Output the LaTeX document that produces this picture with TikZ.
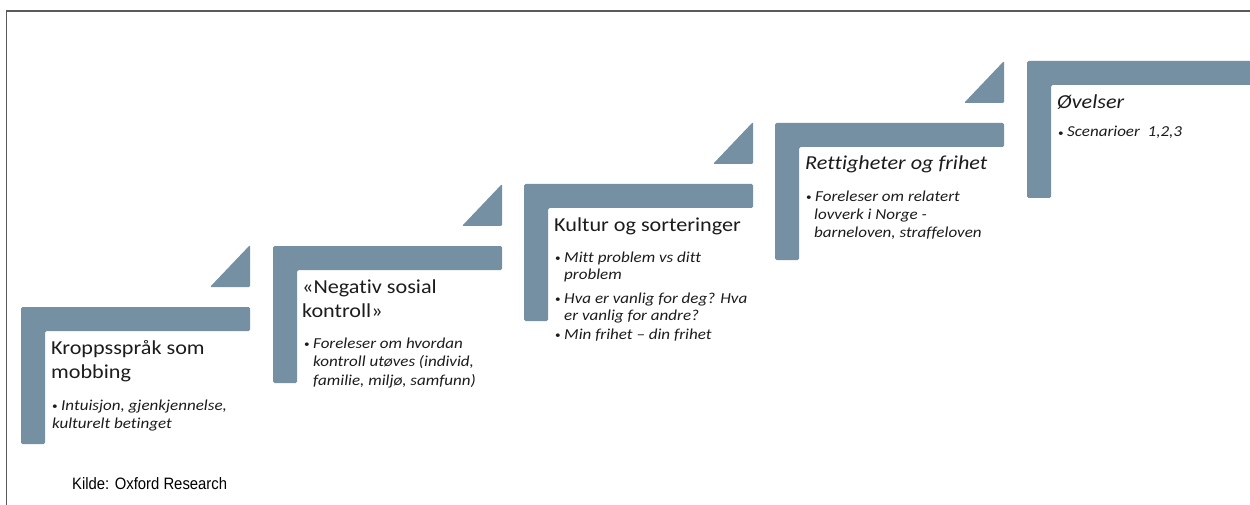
\documentclass[tikz,border=0pt]{standalone}
\usepackage{fontspec}
\setmainfont{Carlito}
\newfontfamily\stepfont[FakeStretch=1.12, Ligatures=NoCommon]{Carlito}
\newfontfamily\srcfont[FakeStretch=0.9]{Liberation Sans}
\definecolor{stepblue}{RGB}{117,144,162}
\definecolor{txtcol}{RGB}{28,28,28}
\definecolor{framecol}{RGB}{90,90,90}
\newcommand\stepshape[2]{%
  \fill[stepblue, rounded corners=1.5pt] (#1,#2) -- ++(229,0) -- ++(0,24) -- ++(-205,0) -- ++(0,113) -- ++(-24,0) -- cycle;}
\newcommand\steptri[2]{%
  \fill[stepblue, rounded corners=1.2pt] (#1+229,#2-62) -- ++(0,42) -- ++(-40,0) -- cycle;}
\newcommand\bul{\makebox[9pt][l]{\raisebox{0.6pt}{\fontsize{10}{10}\selectfont\upshape •}}}
\begin{document}
\begin{tikzpicture}[x=1pt,y=-1pt,
  titletext/.style={anchor=base west, inner sep=0pt, text=txtcol, font=\stepfont\fontsize{19.8}{23}\selectfont},
  ititletext/.style={titletext, font=\stepfont\itshape\fontsize{19.8}{23}\selectfont},
  bullettext/.style={anchor=base west, inner sep=0pt, text=txtcol, font=\stepfont\itshape\fontsize{15.2}{18}\selectfont},
  srctext/.style={anchor=base west, inner sep=0pt, text=black, font=\srcfont\fontsize{16.5}{19}\selectfont}]
\useasboundingbox (0,0) rectangle (1250,505);
\fill[white] (0,0) rectangle (1250,505);
% frame
\draw[framecol, line width=1.3pt] (6.5,506) -- (6.5,11) -- (1251,11);
% steps
\stepshape{21}{307}\steptri{21}{307}
\stepshape{273}{246}\steptri{273}{246}
\stepshape{524}{184}\steptri{524}{184}
\stepshape{775}{123}\steptri{775}{123}
\stepshape{1027}{61}
% step 1
\node[titletext] (s1a) at (51,354) {Kroppsspråk som};
\node[titletext] (s1b) at (51,378) {mobbing};
\node[bullettext] (s1c) at (52,410) {\bul Intuisjon, gjenkjennelse,};
\node[bullettext] (s1d) at (52,428) {kulturelt betinget};
% step 2
\node[titletext] (s2a) at (302,293) {«Negativ sosial};
\node[titletext] (s2b) at (302,317) {kontroll»};
\node[bullettext] (s2c) at (304,348) {\bul Foreleser om hvordan};
\node[bullettext] (s2d) at (313,366.5) {kontroll utøves (individ,};
\node[bullettext] (s2e) at (313,385) {familie, miljø, samfunn)};
% step 3
\node[titletext] (s3a) at (554,231) {Kultur og sorteringer};
\node[bullettext] (s3b) at (555,262) {\bul Mitt problem vs ditt};
\node[bullettext] (s3c) at (564,279) {problem};
\node[bullettext] (s3d) at (555,303) {\bul Hva er vanlig for deg? Hva};
\node[bullettext] (s3e) at (564,320) {er vanlig for andre?};
\node[bullettext] (s3f) at (555,339) {\bul Min frihet – din frihet};
% step 4
\node[ititletext] (s4a) at (805,170) {Rettigheter og frihet};
\node[bullettext] (s4b) at (806,201.5) {\bul Foreleser om relatert};
\node[bullettext] (s4c) at (814,219.5) {lovverk i Norge -};
\node[bullettext] (s4d) at (814,237.5) {barneloven, straffeloven};
% step 5
\node[ititletext] (s5a) at (1057,109) {Øvelser};
\node[bullettext] (s5b) at (1058,137) {\bul Scenarioer\ \ 1,2,3};
% source
\node[srctext] (src) at (72,489) {Kilde: Oxford Research};
\end{tikzpicture}
\end{document}
